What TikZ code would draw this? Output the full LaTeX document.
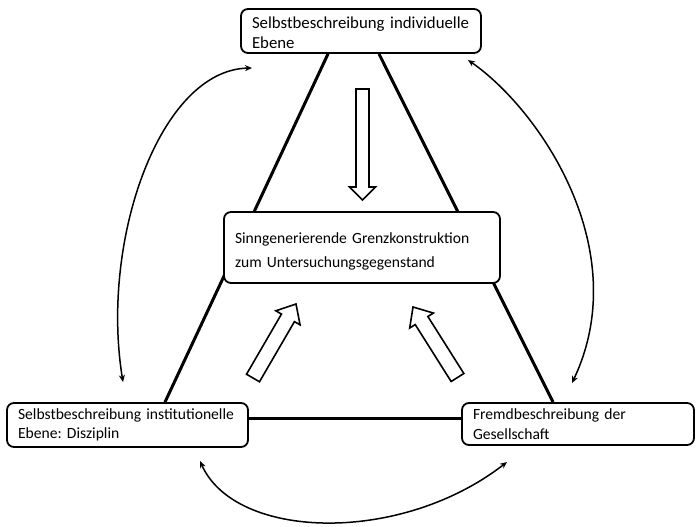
\documentclass[tikz,border=0pt]{standalone}
\usepackage{fontspec}
\setmainfont{Carlito}
\frenchspacing
\usetikzlibrary{calc,arrows.meta,backgrounds}
\newcommand\blockarrow[5]{%
  \coordinate (ba-h) at ($(#2)!#5!(#1)$);
  \draw[blockstyle] ($(#1)!#3!90:(#2)$) -- ($(ba-h)!#3!-90:(#1)$) -- ($(ba-h)!#4!-90:(#1)$) -- (#2)
    -- ($(ba-h)!#4!90:(#1)$) -- ($(ba-h)!#3!90:(#1)$) -- ($(#1)!#3!-90:(#2)$) -- cycle;}
\begin{document}
\begin{tikzpicture}[x=1pt,y=-1pt,
  box/.style={draw,line width=1.8pt,rounded corners=7pt,fill=white,align=left,
    inner xsep=0pt,inner ysep=0pt,font=\fontsize{15.6}{19.5}\selectfont},
  tri/.style={line width=3pt},
  blockstyle/.style={line width=1.6pt,fill=white,line join=miter},
  arc/.style={line width=1.5pt,{Stealth[length=7pt,width=6pt]}-{Stealth[length=7pt,width=6pt]}}]
\useasboundingbox (0,0) rectangle (696,527);

\node[box,minimum width=240pt,minimum height=44pt,text width=218pt,
  font=\fontsize{16.8}{20.5}\selectfont] (top) at (361,31)
  {\rule{0pt}{15pt}Selbstbeschreibung individuelle\\Ebene};
\node[box,minimum width=276pt,minimum height=71pt,text width=254pt,
  font=\fontsize{15.6}{24.5}\selectfont] (center) at (362,247.5)
  {\rule{0pt}{19pt}Sinngenerierende Grenzkonstruktion\\zum Untersuchungsgegenstand};
\node[box,minimum width=241pt,minimum height=44pt,text width=219pt] (left) at (127.5,425)
  {Selbstbeschreibung institutionelle\\Ebene: Disziplin};
\node[box,minimum width=232pt,minimum height=42pt,text width=210pt] (right) at (578,424)
  {Fremdbeschreibung der\\Gesellschaft};

\path (top.south) ++(-33,0) coordinate (tA);
\path (top.south) ++(18,0) coordinate (tB);
\path (left.north) ++(37.5,0) coordinate (lA);
\path (right.north) ++(-25,0) coordinate (rA);
\path (left.east) ++(0,-7) coordinate (lB);
\path (right.west) ++(0,-6) coordinate (rB);

\begin{pgfonlayer}{background}
\draw[tri] (tA) -- (lA);
\draw[tri] (tB) -- (rA);
\draw[tri] (lB) -- (rB);
\end{pgfonlayer}

% block arrows
\coordinate (d1) at (362.5,89);
\coordinate (d2) at (362.5,200);
\coordinate (l1) at (253,378);
\coordinate (l2) at (296,304);
\coordinate (r1) at (457.5,377.5);
\coordinate (r2) at (413,307);
\blockarrow{d1}{d2}{6.5pt}{13pt}{13pt}
\blockarrow{l1}{l2}{7.5pt}{14pt}{16pt}
\blockarrow{r1}{r2}{7.5pt}{14pt}{16pt}

% curved double arrows
\coordinate (a1) at (252,68);
\coordinate (a2) at (123,382);
\coordinate (b1) at (468,60);
\coordinate (b2) at (572,383);
\coordinate (c1) at (200,461);
\coordinate (c2) at (507,462);
\draw[arc] (a1) .. controls (160,70) and (100,240) .. (a2);
\draw[arc] (b1) .. controls (540,110) and (635,250) .. (b2);
\draw[arc] (c1) .. controls (235,540) and (400,545) .. (c2);
\end{tikzpicture}
\end{document}
